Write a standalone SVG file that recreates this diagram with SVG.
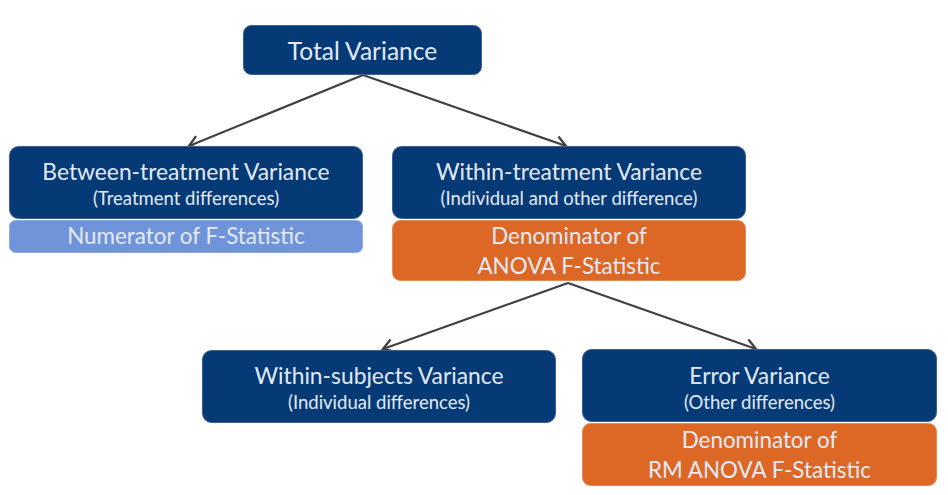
<svg xmlns="http://www.w3.org/2000/svg" width="948" height="495" viewBox="0 0 948 495">
<defs>
<style>
.dark{fill:#053a76;stroke:#3d5f8e;stroke-width:1}
.orange{fill:#dd6826;stroke:#e48a55;stroke-width:1}
.light{fill:#6f94d9;stroke:#8eaae0;stroke-width:1}
text{font-family:Lato,"Open Sans",sans-serif;fill:#e3eaf5;text-anchor:middle}
.t0{font-size:24.5px}
.t1{font-size:22.8px}
.t2{font-size:18.5px}
.t3{font-size:22.4px}
.conn{stroke:#404040;stroke-width:2.2;fill:none;marker-end:url(#arr)}
</style>
<marker id="arr" viewBox="0 0 12 12" refX="10" refY="6" markerWidth="7" markerHeight="7" orient="auto" markerUnits="strokeWidth">
<path d="M2,1 L10,6 L2,11" fill="none" stroke="#404040" stroke-width="1.8"/>
</marker>
</defs>
<rect width="948" height="495" fill="#ffffff"/>
<g id="connectors">
<line class="conn" x1="363" y1="75" x2="189" y2="146"/>
<line class="conn" x1="363" y1="75" x2="566" y2="146"/>
<line class="conn" x1="568" y1="283" x2="383" y2="349"/>
<line class="conn" x1="568" y1="283" x2="756" y2="349"/>
</g>
<g id="total">
<rect class="dark" x="243.5" y="25.5" width="238" height="49" rx="8"/>
<text class="t0" x="362.5" y="60">Total Variance</text>
</g>
<g id="between">
<rect class="dark" x="9.5" y="146.5" width="353" height="72" rx="9"/>
<text class="t1" x="186" y="180">Between-treatment Variance</text>
<text class="t2" x="186" y="205">(Treatment differences)</text>
</g>
<g id="numerator">
<rect class="light" x="9.5" y="220.5" width="353" height="32" rx="6"/>
<text class="t3" x="186" y="244">Numerator of F-Statistic</text>
</g>
<g id="within">
<rect class="dark" x="392.5" y="146.5" width="353" height="72" rx="9"/>
<text class="t1" x="569" y="180">Within-treatment Variance</text>
<text class="t2" x="569" y="205">(Individual and other difference)</text>
</g>
<g id="denom-anova">
<rect class="orange" x="392.5" y="220.5" width="353" height="60" rx="8"/>
<text class="t3" x="569" y="244">Denominator of</text>
<text class="t3" x="569" y="274">ANOVA F-Statistic</text>
</g>
<g id="within-subjects">
<rect class="dark" x="202.5" y="350.5" width="353" height="72" rx="9"/>
<text class="t1" x="379" y="384">Within-subjects Variance</text>
<text class="t2" x="379" y="409">(Individual differences)</text>
</g>
<g id="error">
<rect class="dark" x="582.5" y="349.5" width="354" height="72" rx="9"/>
<text class="t1" x="759.5" y="384">Error Variance</text>
<text class="t2" x="759.5" y="409">(Other differences)</text>
</g>
<g id="denom-rm">
<rect class="orange" x="582.5" y="423.5" width="354" height="62" rx="8"/>
<text class="t3" x="759.5" y="448">Denominator of</text>
<text class="t3" x="759.5" y="478">RM ANOVA F-Statistic</text>
</g>
</svg>
